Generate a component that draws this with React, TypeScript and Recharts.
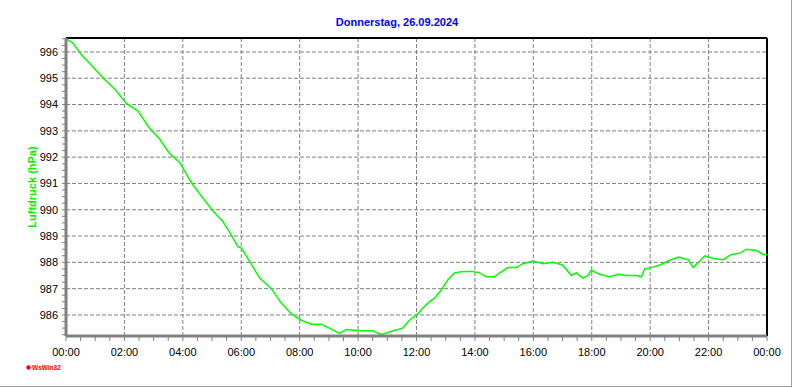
import React from 'react';
import { LineChart, Line, XAxis, YAxis, ReferenceLine } from 'recharts';

// time of day in hours
const HOURS = [
  0, 0.23, 0.52, 0.86, 1.32, 1.66, 2.06, 2.46, 2.86, 3.2, 3.54, 3.89, 4.12, 4.34, 4.68, 5.03, 5.37,
  5.6, 5.88, 6.0, 6.28, 6.63, 7.03, 7.37, 7.71, 8.05, 8.4, 8.74, 9.02, 9.37, 9.6, 10.05, 10.5, 10.8,
  11.2, 11.53, 11.76, 12.05, 12.16, 12.39, 12.62, 12.85, 13.08, 13.3, 13.59, 13.93, 14.16, 14.39,
  14.67, 14.85, 15.13, 15.42, 15.64, 15.99, 16.33, 16.67, 17.0, 17.3, 17.47, 17.7, 17.87, 17.98,
  18.27, 18.61, 18.9, 19.19, 19.53, 19.7, 19.81, 20.04, 20.33, 20.61, 20.96, 21.3, 21.47, 21.7,
  21.87, 22.16, 22.5, 22.78, 23.07, 23.3, 23.64, 23.87, 24.0,
];

// Luftdruck in hPa
const PRESSURE = [
  996.5, 996.35, 995.9, 995.5, 994.95, 994.6, 994.05, 993.75, 993.1, 992.7, 992.15, 991.8, 991.35,
  990.95, 990.45, 989.95, 989.55, 989.15, 988.6, 988.55, 988.05, 987.4, 987.0, 986.45, 986.05,
  985.8, 985.65, 985.65, 985.5, 985.3, 985.45, 985.4, 985.4, 985.25, 985.4, 985.5, 985.8, 986.05,
  986.2, 986.45, 986.65, 986.95, 987.35, 987.6, 987.65, 987.65, 987.6, 987.45, 987.45, 987.6,
  987.8, 987.8, 987.95, 988.05, 987.95, 988.0, 987.9, 987.5, 987.6, 987.4, 987.5, 987.7, 987.55,
  987.45, 987.55, 987.5, 987.5, 987.45, 987.75, 987.8, 987.9, 988.05, 988.2, 988.1, 987.8, 988.05,
  988.25, 988.15, 988.1, 988.3, 988.35, 988.5, 988.45, 988.3, 988.3,
];

const Y_MAJOR = [986, 987, 988, 989, 990, 991, 992, 993, 994, 995, 996];
const X_MAJOR = [2, 4, 6, 8, 10, 12, 14, 16, 18, 20, 22];
const Y_DOMAIN = [985.2, 996.53];

const TITLE = 'Donnerstag, 26.09.2024';
const Y_LABEL = 'Luftdruck (hPa)';

// minor ticks: every 0.25 hPa and every half hour
const Y_TICKS = Array.from({ length: 46 }, (_, i) => 985.25 + i * 0.25);
const X_TICKS = Array.from({ length: 49 }, (_, i) => i * 0.5);

const data = HOURS.map((t, i) => ({ t, p: PRESSURE[i] }));

const FONT = '"Liberation Sans", Arial, sans-serif';
const GRID = '#808080';

const fmtHour = (v: number) =>
  Number.isInteger(v) && v % 2 === 0 ? `${String(v % 24).padStart(2, '0')}:00` : '';

export default function App() {
  return (
    <div style={{ position: 'absolute', left: 0, top: 0, width: 792, height: 387, background: '#fff' }}>
      <LineChart width={792} height={387} data={data} margin={{ top: 38, right: 25, bottom: 0, left: 0 }}>
        <XAxis
          dataKey="t"
          type="number"
          domain={[0, 24]}
          ticks={X_TICKS}
          interval={0}
          tickFormatter={fmtHour}
          height={51}
          tickSize={5}
          tickMargin={7}
          axisLine={{ stroke: GRID, strokeWidth: 3 }}
          tickLine={{ stroke: GRID }}
          tick={{ fill: '#000', fontSize: 11, fontFamily: FONT }}
        />
        <YAxis
          type="number"
          domain={Y_DOMAIN}
          allowDataOverflow
          ticks={Y_TICKS}
          interval={0}
          tickFormatter={(v: number) => (Number.isInteger(v) ? String(v) : '')}
          width={66}
          tickSize={4}
          tickMargin={4}
          axisLine={{ stroke: GRID, strokeWidth: 3 }}
          tickLine={{ stroke: GRID }}
          tick={{ fill: '#000', fontSize: 11, fontFamily: FONT }}
        />
        {Y_MAJOR.map((v) => (
          <ReferenceLine key={`y${v}`} y={v} stroke={GRID} strokeDasharray="4 2" />
        ))}
        {X_MAJOR.map((v) => (
          <ReferenceLine key={`x${v}`} x={v} stroke={GRID} strokeDasharray="4 2" />
        ))}
        <ReferenceLine y={Y_DOMAIN[1]} stroke="#000" strokeWidth={2} />
        <ReferenceLine x={24} stroke="#000" strokeWidth={2} />
        <Line
          type="linear"
          dataKey="p"
          stroke="#00ff00"
          strokeWidth={1.5}
          dot={false}
          isAnimationActive={false}
        />
      </LineChart>
      <svg
        width={792}
        height={387}
        style={{ position: 'absolute', left: 0, top: 0, pointerEvents: 'none' }}
      >
        <text x={397} y={26} textAnchor="middle" fill="#0000ff" fontSize={11} fontWeight="bold" fontFamily={FONT}>
          {TITLE}
        </text>
        <text
          x={32}
          y={187}
          transform="rotate(-90, 32, 187)"
          textAnchor="middle"
          dominantBaseline="central"
          fill="#00ee00"
          fontSize={11}
          fontWeight="bold"
          fontFamily={FONT}
        >
          {Y_LABEL}
        </text>
        <circle cx={28.5} cy={367.5} r={2.2} fill="#ff0000" />
        <text x={32} y={370} fill="#ff0000" fontSize={6.5} fontWeight="bold" fontFamily={FONT}>
          WsWin32
        </text>
        <line x1={791.5} y1={0} x2={791.5} y2={387} stroke="#a0a0a0" />
        <line x1={0} y1={386.5} x2={792} y2={386.5} stroke="#a0a0a0" />
      </svg>
    </div>
  );
}
